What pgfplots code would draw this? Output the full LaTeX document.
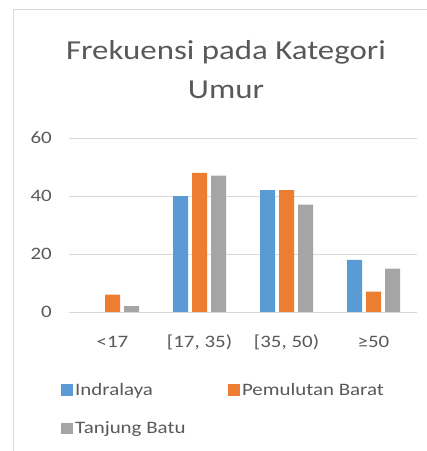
\documentclass[border=0pt]{standalone}
\usepackage{fontspec}
\setmainfont{Carlito}[FakeStretch=1.2]
\usepackage{pgfplots}
\pgfplotsset{compat=1.18}
\definecolor{cblue}{HTML}{5B9BD5}
\definecolor{corange}{HTML}{ED7D31}
\definecolor{cgray}{HTML}{A5A5A5}
\definecolor{txt}{HTML}{595959}
\definecolor{gridc}{HTML}{D9D9D9}
\pgfplotsset{
  sqlegend/.style={legend image code/.code={\fill[##1,draw=none] (0bp,-5.5bp) rectangle (11.5bp,5.5bp);}}
}
\begin{document}
\begin{tikzpicture}
\useasboundingbox (0,0) rectangle (427bp,451bp);
\fill[white] (0,0) rectangle (427bp,451bp);
\draw[gridc, line width=1bp] (13bp,0) -- (13bp,441bp) -- (427bp,441bp);
\node[text=txt, font=\fontsize{27.5}{30}\selectfont, anchor=base] at (226bp,391bp) {Frekuensi pada Kategori};
\node[text=txt, font=\fontsize{27.5}{30}\selectfont, anchor=base] at (226bp,352bp) {Umur};
\begin{axis}[
  at={(69bp,139bp)}, anchor=south west,
  scale only axis, width=348bp, height=174bp,
  xmin=-0.5, xmax=3.5, ymin=0, ymax=60,
  ybar=4bp, bar width=15bp,
  xtick={0,1,2,3}, xticklabels={{<17},{[17, 35)},{[35, 50)},{≥50}},
  ytick={0,20,40,60},
  /pgf/number format/assume math mode=true,
  axis line style={draw=none}, tick style={draw=none},
  ymajorgrids, major grid style={draw=gridc, line width=1bp},
  ticklabel style={font=\fontsize{17.5}{20}\selectfont, text=txt},
  xticklabel style={anchor=base, yshift=-31bp},
  yticklabel style={anchor=east, inner sep=0pt, xshift=-17bp},
  legend columns=2,
  legend style={draw=none, fill=none, inner sep=0pt,
    at={(axis description cs:0,0)}, anchor=north west, xshift=-8bp, yshift=-71bp,
    font=\fontsize{17.5}{20}\selectfont, text=txt,
    /tikz/every even column/.append style={column sep=40bp},
    row sep=25bp,
    nodes={inner xsep=2.5bp, inner ysep=0pt}},
  legend cell align=left,
  sqlegend,
]
\addplot[fill=cblue, draw=none] coordinates {(0,0) (1,40) (2,42) (3,18)};
\addplot[fill=corange, draw=none] coordinates {(0,6) (1,48) (2,42) (3,7)};
\addplot[fill=cgray, draw=none] coordinates {(0,2) (1,47) (2,37) (3,15)};
\legend{Indralaya, Pemulutan Barat, Tanjung Batu}
\end{axis}
\end{tikzpicture}
\end{document}
